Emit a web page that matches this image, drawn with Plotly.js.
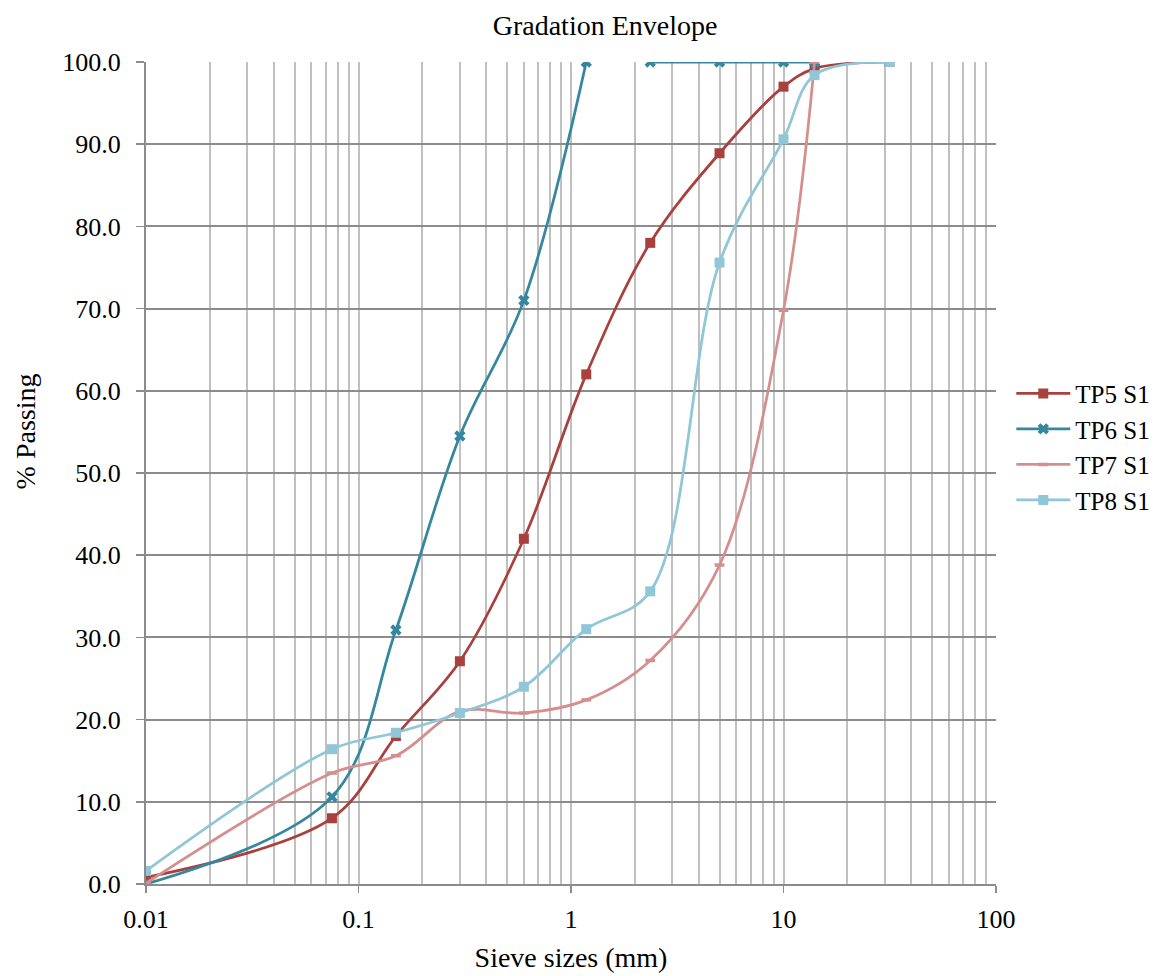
<!DOCTYPE html>
<html>
<head>
<meta charset="utf-8">
<script src="https://cdn.plot.ly/plotly-3.0.1.min.js"></script>
<style>
  html, body { margin: 0; padding: 0; background: #ffffff; }
  #chart { width: 1160px; height: 976px; }
</style>
</head>
<body>
<div id="chart"></div>
<script>
// ---- data ----
const sieves = [0.01, 0.075, 0.15, 0.3, 0.6, 1.18, 2.36, 5, 10, 14, 31.5];
const tp5 = [0.8, 8.0, 18.0, 27.1, 42.0, 62.0, 78.0, 88.9, 97.0, 99.2, 100.0];
const tp8 = [1.6, 16.4, 18.4, 20.8, 24.0, 31.0, 35.6, 75.6, 90.6, 98.4, 100.0];

const sievesTP6 = [0.01, 0.075, 0.15, 0.3, 0.6, 1.18, 2.0, 2.36, 5, 10, 14];
const tp6 = [0.0, 10.6, 30.9, 54.5, 71.0, 100.0, null, 100.0, 100.0, 100.0, 100.0];

const sievesTP7 = [0.01, 0.075, 0.15, 0.3, 0.6, 1.18, 2.36, 5, 10, 14];
const tp7 = [0.1, 13.5, 15.6, 21.0, 20.8, 22.4, 27.2, 38.8, 69.8, 100.0];

const seriesNames = ['TP5 S1', 'TP6 S1', 'TP7 S1', 'TP8 S1'];
const majorTicks = [0.01, 0.1, 1, 10, 100];
const majorTickText = ['0.01', '0.1', '1', '10', '100'];
const yTicks = [0, 10, 20, 30, 40, 50, 60, 70, 80, 90, 100];

// minor grid positions 2..9 in each decade
const minorTicks = [];
[0.01, 0.1, 1, 10].forEach(function (d) {
  for (let k = 2; k <= 9; k++) minorTicks.push(+(d * k).toPrecision(3));
});

const FONT = '"Liberation Serif", "Times New Roman", serif';
const colors = ['#A8403D', '#35879F', '#D48F8D', '#8FC6D8'];

const traces = [
  {
    x: sieves, y: tp5, name: seriesNames[0], type: 'scatter', mode: 'lines+markers',
    line: { color: colors[0], width: 2.75, shape: 'spline', smoothing: 1 },
    marker: { symbol: 'square', size: 10, color: colors[0] },
    connectgaps: false
  },
  {
    x: sievesTP6, y: tp6, name: seriesNames[1], type: 'scatter', mode: 'lines+markers',
    line: { color: colors[1], width: 2.75, shape: 'spline', smoothing: 1 },
    marker: { symbol: 'x', size: 10, color: colors[1] },
    connectgaps: false
  },
  {
    x: sievesTP7, y: tp7, name: seriesNames[2], type: 'scatter', mode: 'lines+markers',
    line: { color: colors[2], width: 2.75, shape: 'spline', smoothing: 1 },
    marker: { symbol: 'line-ew', size: 7, color: colors[2], line: { color: colors[2], width: 3.5 } },
    connectgaps: false
  },
  {
    x: sieves, y: tp8, name: seriesNames[3], type: 'scatter', mode: 'lines+markers',
    line: { color: colors[3], width: 2.75, shape: 'spline', smoothing: 1 },
    marker: { symbol: 'square', size: 10, color: colors[3] },
    connectgaps: false
  }
];

const layout = {
  width: 1160,
  height: 976,
  paper_bgcolor: '#ffffff',
  plot_bgcolor: '#ffffff',
  margin: { l: 146, r: 164, t: 62, b: 92, pad: 0, autoexpand: false },
  font: { family: FONT, size: 26, color: '#000000' },
  title: {
    text: 'Gradation Envelope',
    font: { family: FONT, size: 28, color: '#000000' },
    x: 0.5216, xref: 'container', xanchor: 'center',
    y: 0.974, yref: 'container', yanchor: 'middle'
  },
  showlegend: true,
  legend: {
    x: 1.018, xanchor: 'left', y: 0.532, yanchor: 'middle',
    font: { family: FONT, size: 25, color: '#000000' },
    bgcolor: 'rgba(0,0,0,0)', borderwidth: 0,
    itemwidth: 54, tracegroupgap: 0
  },
  xaxis: {
    type: 'log',
    range: [-2, 2],
    tickmode: 'array',
    tickvals: majorTicks,
    ticktext: majorTickText,
    ticks: 'outside', ticklen: 7, tickwidth: 1.5, tickcolor: '#8c8c8c',
    tickfont: { family: FONT, size: 26, color: '#000000' },
    ticklabelstandoff: 4,
    showgrid: true, gridcolor: '#c0c0c0', gridwidth: 2,
    minor: {
      tickmode: 'array', tickvals: minorTicks,
      showgrid: true, gridcolor: '#c0c0c0', gridwidth: 2, ticks: ''
    },
    showline: true, linecolor: '#8c8c8c', linewidth: 2,
    zeroline: false,
    title: { text: 'Sieve sizes (mm)', font: { family: FONT, size: 28, color: '#000000' }, standoff: 14 }
  },
  yaxis: {
    range: [0, 100],
    tickmode: 'array',
    tickvals: yTicks,
    tickformat: '.1f',
    ticks: 'outside', ticklen: 8, tickwidth: 1.5, tickcolor: '#8c8c8c',
    tickfont: { family: FONT, size: 26, color: '#000000' },
    ticklabelstandoff: 10,
    showgrid: true, gridcolor: '#8c8c8c', gridwidth: 2,
    showline: true, linecolor: '#8c8c8c', linewidth: 2,
    zeroline: false
  },
  annotations: [{
    text: '% Passing',
    xref: 'paper', yref: 'paper',
    x: -0.142, y: 0.551, xanchor: 'center', yanchor: 'middle',
    textangle: -90, showarrow: false,
    font: { family: FONT, size: 28, color: '#000000' }
  }],
  hovermode: false
};

Plotly.newPlot('chart', traces, layout, { displayModeBar: false, staticPlot: true });
</script>
</body>
</html>
